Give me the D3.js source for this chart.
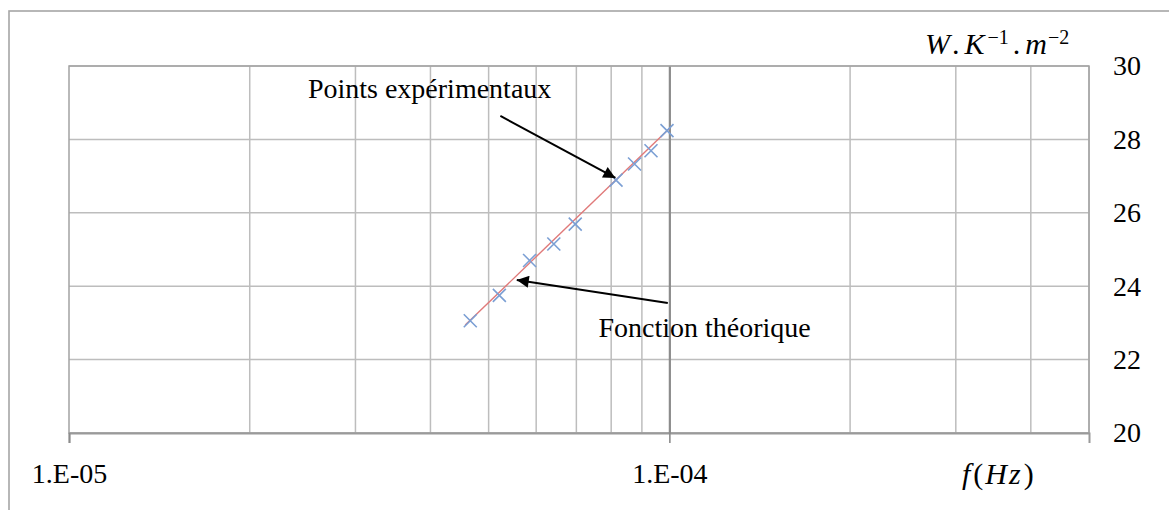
<!DOCTYPE html>
<html>
<head>
<meta charset="utf-8">
<script src="https://cdn.jsdelivr.net/npm/d3@7/dist/d3.min.js"></script>
<style>
  html, body { margin: 0; padding: 0; background: #fff; }
  svg { display: block; }
  text { font-family: "Liberation Serif", "Times New Roman", serif; fill: #000; }
</style>
</head>
<body>
<svg id="chart" width="1169" height="510"></svg>
<script>
// Measured points: frequency (Hz) and conductance (W.K^-1.m^-2)
const pointFreq  = [4.66e-5, 5.21e-5, 5.85e-5, 6.42e-5, 6.97e-5, 8.15e-5, 8.75e-5, 9.32e-5, 9.91e-5];
const pointValue = [23.06, 23.75, 24.70, 25.15, 25.69, 26.89, 27.33, 27.69, 28.24];

// Theoretical function (straight in semi-log coordinates)
const theoryFreq  = [4.57e-5, 1.0e-4];
const theoryValue = [22.94, 28.30];

// Axis ticks and labels
const xMajor  = [1e-5, 1e-4];
const xLabels = ["1.E-05", "1.E-04"];
const xMinor  = [2e-5, 3e-5, 4e-5, 5e-5, 6e-5, 7e-5, 8e-5, 9e-5, 2e-4, 3e-4, 4e-4, 5e-4];
const yTicks  = [20, 22, 24, 26, 28, 30];

// Annotations: label, text anchor (f, value), arrow start (f, value), arrow tip (f, value)
const noteLabels = ["Points expérimentaux", "Fonction théorique"];
const noteText   = [[2.50e-5, 29.13], [7.62e-5, 22.62]];
const noteFrom   = [[5.23e-5, 28.64], [9.94e-5, 23.54]];
const noteTo     = [[8.13e-5, 26.95], [5.57e-5, 24.17]];

const svg = d3.select("#chart");
const plot = { left: 69, right: 1089, top: 66, bottom: 433 };

const x = d3.scaleLog().domain([1e-5, 5e-4]).range([plot.left, plot.right]);
const y = d3.scaleLinear().domain([20, 30]).range([plot.bottom, plot.top]);

// Outer chart frame
svg.append("rect")
  .attr("x", 9).attr("y", 11).attr("width", 1200).attr("height", 540)
  .attr("fill", "none").attr("stroke", "#a6a6a6").attr("stroke-width", 1.6);

// Grid
const grid = svg.append("g");
grid.selectAll(".vg").data(xMinor).join("line")
  .attr("x1", d => x(d)).attr("x2", d => x(d))
  .attr("y1", plot.top).attr("y2", plot.bottom)
  .attr("stroke", "#bdbdbd").attr("stroke-width", 1.5);
grid.selectAll(".hg").data(yTicks).join("line")
  .attr("x1", plot.left).attr("x2", plot.right)
  .attr("y1", d => y(d)).attr("y2", d => y(d))
  .attr("stroke", "#bdbdbd").attr("stroke-width", 1.5);

// Plot area border
svg.append("rect")
  .attr("x", plot.left).attr("y", plot.top)
  .attr("width", plot.right - plot.left).attr("height", plot.bottom - plot.top)
  .attr("fill", "none").attr("stroke", "#a3a3a3").attr("stroke-width", 1.5);

// Horizontal axis with major ticks at each decade
const xAxis = d3.axisBottom(x).tickValues(xMajor).tickSize(10).tickFormat((d, i) => xLabels[i]);
const gx = svg.append("g").attr("transform", `translate(0,${plot.bottom})`).call(xAxis);
gx.select(".domain").attr("stroke", "#9a9a9a").attr("stroke-width", 2);
gx.selectAll(".tick line").attr("stroke", "#8c8c8c").attr("stroke-width", 1.6);
gx.selectAll(".tick text")
  .attr("font-family", "Liberation Serif").attr("font-size", 28)
  .attr("dy", 0).attr("y", 50).attr("fill", "#000");

// Vertical axis crossing at 1e-4, labels on the right
const yAxis = d3.axisRight(y).tickValues(yTicks).tickSize(0).tickPadding(0);
const gy = svg.append("g").attr("transform", `translate(${x(1e-4)},0)`).call(yAxis);
gy.select(".domain").attr("stroke", "#8c8c8c").attr("stroke-width", 2.2);
gy.selectAll(".tick text")
  .attr("x", plot.right + 24 - x(1e-4))
  .attr("text-anchor", "start")
  .attr("font-family", "Liberation Serif").attr("font-size", 28)
  .attr("dy", "0.32em").attr("fill", "#000");

// Theoretical function
const line = d3.line().x(d => x(d[0])).y(d => y(d[1]));
svg.append("path")
  .datum(theoryFreq.map((f, i) => [f, theoryValue[i]]))
  .attr("d", line)
  .attr("fill", "none").attr("stroke", "#e07a7a").attr("stroke-width", 1.4);

// Experimental points as crosses
const r = 6.5;
const pts = svg.append("g").selectAll("g").data(pointFreq.map((f, i) => [f, pointValue[i]])).join("g")
  .attr("transform", d => `translate(${x(d[0])},${y(d[1])})`);
pts.append("path")
  .attr("d", `M${-r},${-r}L${r},${r}M${-r},${r}L${r},${-r}`)
  .attr("stroke", "#7b9fd4").attr("stroke-width", 1.6).attr("fill", "none");

// Annotation arrows
const defs = svg.append("defs");
defs.append("marker")
  .attr("id", "head").attr("viewBox", "0 0 10 10")
  .attr("refX", 10).attr("refY", 5)
  .attr("markerWidth", 8).attr("markerHeight", 6)
  .attr("markerUnits", "strokeWidth")
  .attr("orient", "auto")
  .append("path").attr("d", "M0,0L10,5L0,10Z").attr("fill", "#000");

svg.append("g").selectAll("line").data(noteFrom).join("line")
  .attr("x1", d => x(d[0])).attr("y1", d => y(d[1]))
  .attr("x2", (d, i) => x(noteTo[i][0])).attr("y2", (d, i) => y(noteTo[i][1]))
  .attr("stroke", "#000").attr("stroke-width", 2)
  .attr("marker-end", "url(#head)");

svg.append("g").selectAll("text").data(noteLabels).join("text")
  .attr("x", (d, i) => x(noteText[i][0])).attr("y", (d, i) => y(noteText[i][1]))
  .attr("font-size", 28)
  .text(d => d);

// Unit label of the vertical axis (math style)
const unit = svg.append("text")
  .attr("x", 925).attr("y", 54)
  .attr("font-size", 30).attr("fill", "#1a1a1a");
unit.append("tspan").attr("font-style", "italic").text("W");
unit.append("tspan").attr("dx", 2).text(".");
unit.append("tspan").attr("dx", 5).attr("font-style", "italic").text("K");
unit.append("tspan").attr("dx", 3).attr("dy", -10).attr("font-size", 20).text("−1");
unit.append("tspan").attr("dx", 4).attr("dy", 10).text(".");
unit.append("tspan").attr("dx", 5).attr("font-style", "italic").text("m");
unit.append("tspan").attr("dx", 1).attr("dy", -10).attr("font-size", 20).text("−2");

// Unit label of the horizontal axis
const fl = svg.append("text")
  .attr("x", 962).attr("y", 484)
  .attr("font-size", 30).attr("fill", "#1a1a1a");
fl.append("tspan").attr("font-style", "italic").text("f");
fl.append("tspan").attr("dx", 3).text("(");
fl.append("tspan").attr("dx", 2).attr("font-style", "italic").text("H");
fl.append("tspan").attr("dx", 2).attr("font-style", "italic").text("z");
fl.append("tspan").attr("dx", 3).text(")");
</script>
</body>
</html>
